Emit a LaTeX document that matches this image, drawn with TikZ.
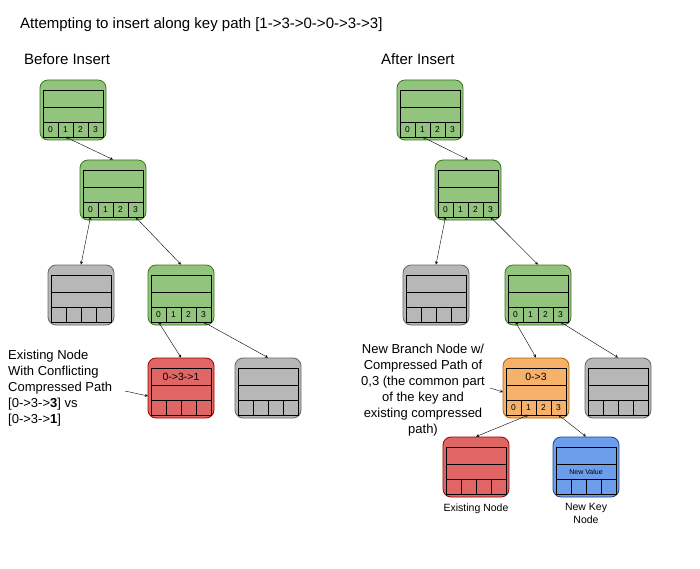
\documentclass[tikz,border=0pt]{standalone}
\usepackage{fontspec}
\setmainfont{Liberation Sans}
\begin{document}
\begin{tikzpicture}[x=1pt,y=-1pt,
  lab/.style={font=\fontsize{13}{16}\selectfont,inner sep=0pt},
  conn/.style={<->,>=stealth,thin,shorten <=0pt},
  slot/.style={font=\fontsize{8.5}{8.5}\selectfont,inner sep=0pt}]
\definecolor{cg}{HTML}{93C47D}\definecolor{bg}{HTML}{38761D}
\definecolor{cy}{HTML}{B7B7B7}\definecolor{by}{HTML}{666666}
\definecolor{cr}{HTML}{E06666}\definecolor{br}{HTML}{990000}
\definecolor{co}{HTML}{F6B26B}\definecolor{bo}{HTML}{B45F06}
\definecolor{cb}{HTML}{6D9EEB}\definecolor{bb}{HTML}{1C4587}
\useasboundingbox (0,0) rectangle (700,569);
% #1 name #2 x #3 y #4 fill #5 border #6 row1 text #7 row2 text #8 show digits (1/0)
\newcommand\tnode[8]{%
  \node[draw=#5,fill=#4,rounded corners=8pt,minimum width=66pt,minimum height=60pt,inner sep=0pt,line width=0.8pt] (#1) at (#2+33,#3+30) {};
  \draw[black,line width=0.6pt] (#2+3,#3+10) rectangle (#2+63,#3+57);
  \draw[black,line width=0.6pt] (#2+3,#3+27) -- (#2+63,#3+27) (#2+3,#3+42) -- (#2+63,#3+42);
  \foreach \i in {1,2,3}{\draw[black,line width=0.6pt] (#2+3+15*\i,#3+42) -- (#2+3+15*\i,#3+57);}
  \node[font=\fontsize{10.5}{10.5}\selectfont,inner sep=0pt] (#1r1) at (#2+33,#3+18.5) {#6};
  \node[font=\fontsize{7}{7}\selectfont,inner sep=0pt] (#1r2) at (#2+33,#3+34.5) {#7};
  \foreach \i in {0,1,2,3}{\coordinate (#1s\i) at (#2+10.5+15*\i,#3+57);}
  \ifnum#8=1
  \foreach \i in {0,1,2,3}{\node[slot] (#1d\i) at (#2+10.5+15*\i,#3+49.5) {\i};}
  \fi
}
\node[lab,font=\fontsize{15}{16}\selectfont,anchor=west] (title) at (20,25) {Attempting to insert along key path [1->3->0->0->3->3]};
\node[lab,font=\fontsize{15}{16}\selectfont,anchor=west] (before) at (24,59) {Before Insert};
\node[lab,font=\fontsize{15}{16}\selectfont,anchor=west] (after) at (381,59) {After Insert};
% left tree
\tnode{a}{40}{80}{cg}{bg}{}{}{1}
\tnode{b}{80}{160}{cg}{bg}{}{}{1}
\tnode{c}{48}{265}{cy}{by}{}{}{0}
\tnode{d}{148}{265}{cg}{bg}{}{}{1}
\tnode{e}{148}{358}{cr}{br}{0->3->1}{}{0}
\tnode{f}{235}{358}{cy}{by}{}{}{0}
\draw[conn] (as1) -- (b.north);
\draw[conn] (bs0) -- (c.north);
\draw[conn] (bs3) -- (d.north);
\draw[conn] (ds0) -- (e.north);
\draw[conn] (ds3) -- (f.north);
\node[lab,anchor=north west,align=left] (l1) at (8,350) {Existing Node\\With Conflicting\\Compressed Path\\{}[0->3->\textbf{3}] vs\\{}[0->3->\textbf{1}]};
\coordinate (l1e) at (125,391);
\draw[->,>=stealth,thin] (l1e) -- (148,396);
% right tree
\tnode{A}{397}{80}{cg}{bg}{}{}{1}
\tnode{B}{435}{160}{cg}{bg}{}{}{1}
\tnode{C}{403}{265}{cy}{by}{}{}{0}
\tnode{D}{505}{265}{cg}{bg}{}{}{1}
\tnode{O}{503}{358}{co}{bo}{0->3}{}{1}
\tnode{G}{585}{358}{cy}{by}{}{}{0}
\tnode{R}{443}{437}{cr}{br}{}{}{0}
\tnode{N}{553}{437}{cb}{bb}{}{New Value}{0}
\draw[conn] (As1) -- (B.north);
\draw[conn] (Bs0) -- (C.north);
\draw[conn] (Bs3) -- (D.north);
\draw[conn] (Ds0) -- (O.north);
\draw[conn] (Ds3) -- (G.north);
\draw[conn] (Os1) -- (R.north);
\draw[conn] (Os3) -- (N.north);
\node[lab,anchor=north,align=center] (l2) at (423,344) {New Branch Node w/\\Compressed Path of\\0,3 (the common part\\of the key and\\existing compressed\\path)};
\coordinate (l2e) at (490,388);
\draw[->,>=stealth,thin] (l2e) -- (503,392);
\node[lab,font=\fontsize{10.5}{13}\selectfont,anchor=north] (lr) at (R.south) [yshift=-6pt] {Existing Node};
\node[lab,font=\fontsize{10.5}{13}\selectfont,anchor=north,align=center] (ln) at (N.south) [yshift=-6pt] {New Key\\Node};
\end{tikzpicture}
\end{document}
